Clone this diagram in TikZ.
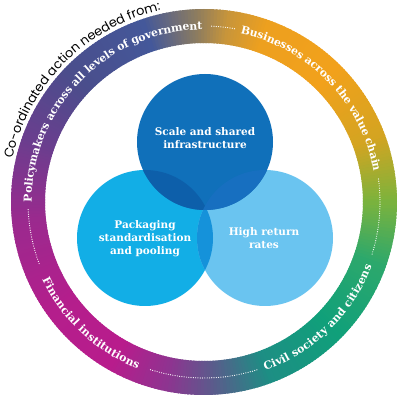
\documentclass[tikz,border=0pt]{standalone}
\usepackage{fontspec}
\newfontfamily\ringfont{DejaVu Serif}
\newfontfamily\outerfont{Poppins}
\usetikzlibrary{decorations.text}
\definecolor{sa}{HTML}{7DB33C}
\definecolor{sb}{HTML}{D4A421}
\definecolor{sc}{HTML}{F2A11B}
\definecolor{sd}{HTML}{EDA01F}
\definecolor{se}{HTML}{C8953A}
\definecolor{sf}{HTML}{8C7C60}
\definecolor{sg}{HTML}{44589A}
\definecolor{sh}{HTML}{4A4E8C}
\definecolor{si}{HTML}{6A3E8E}
\definecolor{sj}{HTML}{9A2A8E}
\definecolor{sk}{HTML}{B41E8C}
\definecolor{sl}{HTML}{B81C8C}
\definecolor{sm}{HTML}{8E3490}
\definecolor{sn}{HTML}{5C5A8C}
\definecolor{so}{HTML}{1D8E84}
\definecolor{sp}{HTML}{10A07A}
\definecolor{sq}{HTML}{2CA86C}
\definecolor{ctop}{HTML}{1070BA}
\definecolor{cleft}{HTML}{12AEE6}
\definecolor{cright}{HTML}{6AC4F0}
\definecolor{otl}{HTML}{0D5FAA}
\definecolor{otr}{HTML}{176FC0}
\definecolor{olr}{HTML}{1592DA}
\tikzset{
  venn/.style={circle, minimum size=136pt, inner sep=0pt},
  circtext/.style={align=center, text=white, font=\ringfont\bfseries\fontsize{10.5}{13}\selectfont},
  dotline/.style={white, line width=1.2pt, line cap=round, dash pattern=on 0pt off 2.3pt},
  ringlabel/.style={decorate, decoration={text along path, text color=white, text align=center, raise=-3.6pt, text={#1}}}
}
\newcommand\rf{\ringfont\bfseries\fontsize{10.9}{13}\selectfont}
\begin{document}
\begin{tikzpicture}[x=1pt,y=1pt]
\useasboundingbox (0,0) rectangle (400,400);
\fill[white] (0,0) rectangle (400,400);
\begin{scope}[shift={(204,198)}]
  \foreach \aa/\ca/\ab/\cb in {0/sa/20/sb,20/sb/45/sc,45/sc/70/sd,70/sd/82/se,82/se/92/sf,92/sf/108/sg,108/sg/135/sh,135/sh/160/si,160/si/185/sj,185/sj/215/sk,215/sk/240/sl,240/sl/258/sm,258/sm/272/sn,272/sn/290/so,290/so/315/sp,315/sp/340/sq,340/sq/360/sa}{
    \pgfmathtruncatemacro\n{\ab-\aa-1}
    \foreach \k in {0,...,\n}{
      \pgfmathsetmacro\p{100*\k/(\ab-\aa)}
      \pgfmathsetmacro\a{\aa+\k}
      \pgfmathsetmacro\b{\aa+\k+1.5}
      \colorlet{cc}{\cb!\p!\ca}
      \fill[cc] (\a:159) arc[start angle=\a, end angle=\b, radius=159] -- (\b:193) arc[start angle=\b, end angle=\a, radius=193] -- cycle;
    }
  }
  \draw[dotline] (87.5:176) arc[start angle=87.5, end angle=79.5, radius=176];
  \draw[dotline] (7.5:176) arc[start angle=7.5, end angle=-17.5, radius=176];
  \draw[dotline] (-72.5:176) arc[start angle=-72.5, end angle=-108, radius=176];
  \draw[dotline] (182.5:176) arc[start angle=182.5, end angle=201, radius=176];
  \path[ringlabel={|\rf|Policymakers across all levels of government}] (186:176) arc[start angle=186, end angle=84.5, radius=176];
  \path[ringlabel={|\rf|Businesses across the value chain}] (82:176) arc[start angle=82, end angle=6, radius=176];
  \path[ringlabel={|\rf|Civil society and citizens}] (-78:176) arc[start angle=-78, end angle=-13, radius=176];
  \path[ringlabel={|\rf|Financial institutions}] (198:176) arc[start angle=198, end angle=256, radius=176];
  \path[decorate, decoration={text along path, text align=center, text={|\outerfont\fontsize{12.8}{14}\selectfont|Co-ordinated action needed from:}}] (172:196.5) arc[start angle=172, end angle=98, radius=196.5];
\end{scope}
\node[venn, fill=cleft] (left) at (145,162) {};
\node[venn, fill=cright] (right) at (265,162) {};
\node[venn, fill=ctop] (top) at (205,258) {};
\begin{scope}
  \clip (left.center) circle[radius=68];
  \fill[olr] (right.center) circle[radius=68];
  \fill[otl] (top.center) circle[radius=68];
\end{scope}
\begin{scope}
  \clip (right.center) circle[radius=68];
  \fill[otr] (top.center) circle[radius=68];
\end{scope}
\node[circtext] (ttop) at (205,262) {Scale and shared\\infrastructure};
\node[circtext] (tleft) at (145,161) {Packaging\\standardisation\\and pooling};
\node[circtext] (tright) at (264,161.5) {High return\\rates};
\end{tikzpicture}
\end{document}
